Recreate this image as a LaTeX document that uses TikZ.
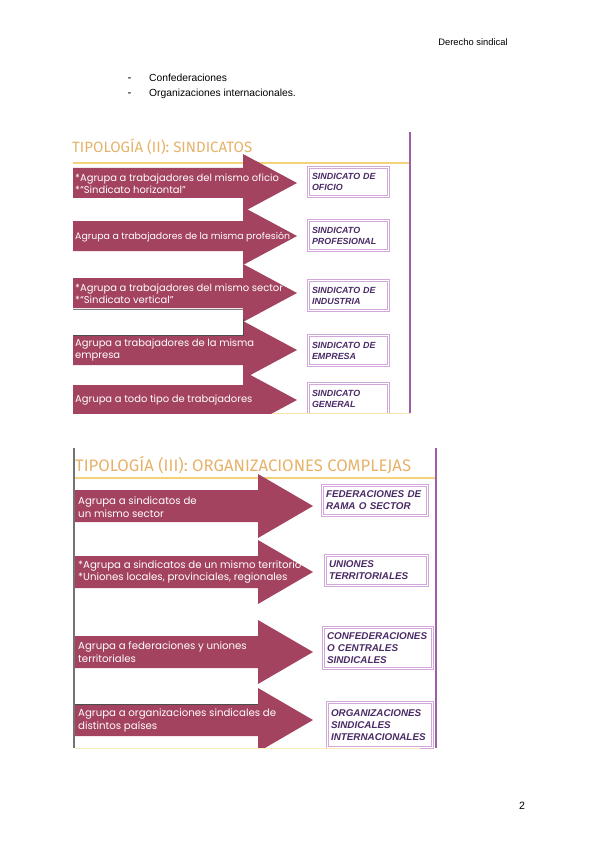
\documentclass[tikz,border=0pt]{standalone}
\usepackage{fontspec}
\setmainfont{Liberation Sans}
\newfontfamily\comicfont{Poppins}
\newfontfamily\titlefont{Fira Sans}
\usetikzlibrary{positioning}
\definecolor{arrowRed}{HTML}{A3435F}
\definecolor{boxLila}{HTML}{D2A8DA}
\definecolor{boxText}{HTML}{4A2A66}
\definecolor{titleTan}{HTML}{E6B26A}
\definecolor{lineGold}{HTML}{F4D27A}
\definecolor{sideLila}{HTML}{9C5FA8}

\begin{document}
\begin{tikzpicture}[x=0.03cm, y=-0.03cm,
  arr/.style={fill=arrowRed},
  txt/.style={anchor=west, align=left, text=white, inner sep=0pt,
    font=\comicfont\fontsize{8.5}{10.4}\selectfont},
  txtb/.style={txt, font=\comicfont\fontsize{8.7}{11}\selectfont},
  bx/.style={draw=boxLila, double=white, double distance=0.7pt, line width=0.9pt,
    anchor=north west, align=left, inner xsep=3pt, inner ysep=1pt, text=boxText,
    text width=2.2cm, font=\bfseries\itshape\fontsize{7.6}{9.3}\selectfont},
  bxb/.style={bx, text width=2.95cm, font=\bfseries\itshape\fontsize{8.4}{10.2}\selectfont},
  titl/.style={anchor=west, inner sep=0pt, text=titleTan,
    font=\titlefont\fontsize{12.8}{14}\selectfont}]
\useasboundingbox (0,0) rectangle (600,848);
% page text
\node[font=\fontsize{8}{10}\selectfont] (hdr) at (473,42) {Derecho sindical};
\node[anchor=west, font=\fontsize{8.8}{10}\selectfont] (li1) at (145,78) {Confederaciones};
\node[anchor=west, font=\fontsize{8.8}{10}\selectfont] (li2) at (145,94) {Organizaciones internacionales.};
\node[base left=0.4cm of li1, inner sep=0pt] (d1) {-};
\node[base left=0.4cm of li2, inner sep=0pt] (d2) {-};
\node[font=\fontsize{9}{10}\selectfont] (pg) at (522,806) {2};

% slide 1: sindicatos
\node[titl] (tit1) at (72,147) {TIPOLOGÍA (II): SINDICATOS};
\draw[lineGold, line width=1pt] (73,163) -- (410,163);
\begin{scope}
\clip (60,132) rectangle (410,413);
\foreach \c in {183,236,293,350,400}
  \fill[arr] (73,\c-15) -- (243,\c-15) -- (243,\c-29) -- (297,\c)
    -- (243,\c+29) -- (243,\c+15) -- (73,\c+15) -- cycle;
\draw[black!70, line width=0.4pt] (73,335) -- (243,335) -- (243,319);
\draw[black!50, line width=0.3pt] (73,309) -- (243,309);
\node[bx, minimum height=0.87cm] (bofi) at (308,167) {SINDICATO DE\\OFICIO};
\node[bx, minimum height=0.9cm] (bpro) at (308,220) {SINDICATO\\PROFESIONAL};
\node[bx, minimum height=0.9cm] (bind) at (308,280) {SINDICATO DE\\INDUSTRIA};
\node[bx, minimum height=0.9cm] (bemp) at (308,335) {SINDICATO DE\\EMPRESA};
\node[bx, minimum height=0.95cm] (bgen) at (308,383) {SINDICATO\\GENERAL};
\end{scope}
\node[txt] (ofi) at (75,184) {*Agrupa a trabajadores del mismo oficio\\*“Sindicato horizontal”};
\node[txt, font=\comicfont\fontsize{8}{10.4}\selectfont] (pro) at (75,237) {Agrupa a trabajadores de la misma profesión};
\node[txt] (ind) at (75,294) {*Agrupa a trabajadores del mismo sector\\*“Sindicato vertical”};
\node[txt] (emp) at (75,350) {Agrupa a trabajadores de la misma\\empresa};
\node[txt] (gen) at (75,400) {Agrupa a todo tipo de trabajadores};
\draw[sideLila, line width=1pt] (410,132) -- (410,413);
\draw[lineGold!60, line width=0.8pt] (272,413) -- (410,413);

% slide 2: organizaciones complejas
\node[titl, font=\titlefont\fontsize{14.2}{16}\selectfont] (tit2) at (75,465)
  {TIPOLOGÍA (III): ORGANIZACIONES COMPLEJAS};
\draw[lineGold, line width=1pt] (75,478) -- (436,478);
\begin{scope}
\clip (74,448) rectangle (436,748);
\foreach \c in {506,572,652,720}
  \fill[arr] (75,\c-16) -- (258,\c-16) -- (258,\c-32) -- (313,\c)
    -- (258,\c+32) -- (258,\c+16) -- (75,\c+16) -- cycle;
\draw[black!70, line width=0.4pt] (75,704) -- (258,704);
\node[bxb, minimum height=0.9cm] (bram) at (322,485) {FEDERACIONES DE\\RAMA O SECTOR};
\node[bxb, text width=2.85cm, minimum height=0.9cm] (bter) at (325,555) {UNIONES\\TERRITORIALES};
\node[bxb, text width=3.05cm, minimum height=1.23cm] (bcon) at (323,627) {CONFEDERACIONES\\O CENTRALES\\SINDICALES};
\node[bxb, minimum height=1.35cm] (bint) at (327,702) {ORGANIZACIONES\\SINDICALES\\INTERNACIONALES};
\end{scope}
\node[txtb] (ram) at (78,507) {Agrupa a sindicatos de\\un mismo sector};
\node[txtb] (ter) at (78,572) {*Agrupa a sindicatos de un mismo territorio\\*Uniones locales, provinciales, regionales};
\node[txtb] (con) at (78,652) {Agrupa a federaciones y uniones\\territoriales};
\node[txtb] (int) at (78,720) {Agrupa a organizaciones sindicales de\\distintos países};
\draw[black!55, line width=1pt] (74,448) -- (74,748);
\draw[sideLila, line width=1pt] (436,448) -- (436,748);
\draw[lineGold!50, line width=0.8pt] (75,748) -- (420,748);
\end{tikzpicture}
\end{document}
